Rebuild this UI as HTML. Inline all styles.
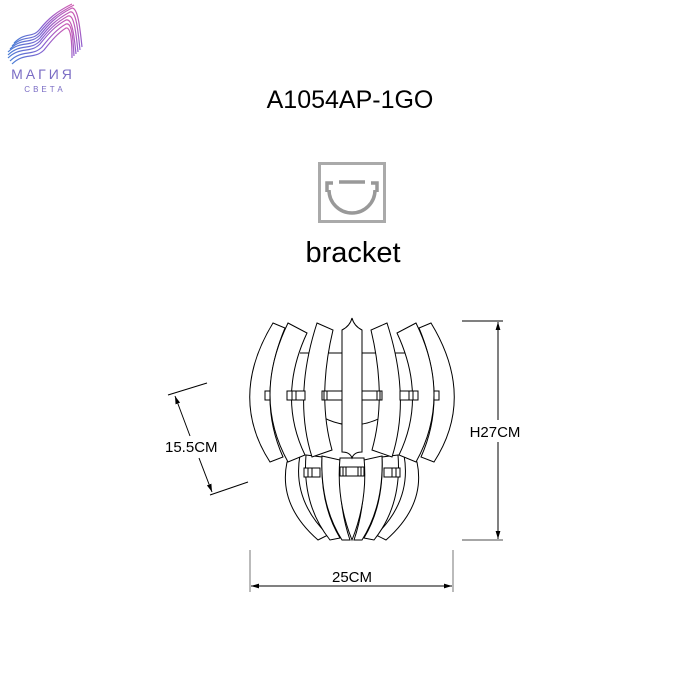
<!DOCTYPE html>
<html><head><style>
body{margin:0;background:#fff;}
svg{display:block}
text{font-family:"Liberation Sans",sans-serif;fill:#000}
</style></head><body>
<svg width="700" height="700" viewBox="0 0 700 700" xmlns="http://www.w3.org/2000/svg">
<defs>
<linearGradient id="lg" x1="0" y1="1" x2="1" y2="0">
<stop offset="0" stop-color="#4a7fd6"/><stop offset="0.5" stop-color="#8a5fd0"/><stop offset="1" stop-color="#d05ab0"/>
</linearGradient>
<marker id="ar" viewBox="0 0 10 10" refX="10" refY="5" markerWidth="8" markerHeight="8" orient="auto-start-reverse"><path d="M0,2 L10,5 L0,8 z" fill="#000"/></marker>
</defs>
<!-- logo -->
<g fill="none" stroke="url(#lg)" stroke-width="1.2">
<path d="M8,52 C20,40 30,48 40,38 C48,28 55,20 70,12 C76,10 78,30 80,50"/>
<path d="M8,55 C20,43 30,51 40,41 C48,31 55,23 68,16 C74,14 76,32 78,52"/>
<path d="M8,58 C20,46 30,54 40,44 C48,34 55,26 66,20 C72,18 74,34 76,54"/>
<path d="M10,61 C22,49 32,57 42,47 C50,37 57,29 66,24 C72,22 73,38 74,56"/>
<path d="M12,64 C24,52 34,60 44,50 C52,40 58,33 66,28 C71,27 72,42 72,58"/>
<path d="M10,49 C22,37 30,45 40,35 C48,25 56,16 72,8 C78,8 80,28 82,47"/>
<path d="M12,46 C24,34 32,42 40,32 C48,22 56,14 74,5"/>
<path d="M14,43 C26,31 32,39 40,29 C48,19 56,12 72,4"/>
</g>
<text x="43" y="79" font-size="14" text-anchor="middle" style="fill:#7a6cc4;letter-spacing:3px">МАГИЯ</text>
<text x="45" y="92" font-size="8" text-anchor="middle" style="fill:#7a6cc4;letter-spacing:3px">СВЕТА</text>

<text x="350" y="108" font-size="25" text-anchor="middle">A1054AP-1GO</text>
<!-- bracket icon -->
<rect x="319.5" y="163.5" width="65" height="58" fill="#fff" stroke="#aaa" stroke-width="3"/>
<g fill="none" stroke="#999" stroke-width="3.5">
<path d="M329,190 A23,23 0 0 0 375,190"/>
<path d="M327,192 v-9 h6 M377,192 v-9 h-6"/>
<path d="M339,182 h26"/>
</g>
<text x="353" y="262" font-size="29" text-anchor="middle">bracket</text>

<!-- lamp -->
<g fill="#fff" stroke="#000" stroke-width="1">
<path d="M300,353 H405 M295,395 H410"/>
<path d="M305,405 Q352,445 400,405" fill="none"/>
<!-- lower slats -->
<path d="M287,462 L300,455 Q292,500 328,535 L318,540 Q278,505 287,462z"/>
<path d="M417,462 L404,455 Q412,500 376,535 L386,540 Q426,505 417,462z"/>
<path d="M306,455 L322,457 Q320,505 340,538 L330,540 Q302,505 306,455z"/>
<path d="M398,455 L382,457 Q384,505 364,538 L374,540 Q402,505 398,455z"/>
<path d="M322,456 L340,460 Q338,505 350,540 L342,540 Q320,505 322,456z"/>
<path d="M382,456 L364,460 Q366,505 354,540 L362,540 Q384,505 382,456z"/>
<path d="M340,458 L364,458 Q368,500 352,540 Q336,500 340,458z"/>
<rect x="304" y="468" width="16" height="9"/><rect x="308" y="468" width="4" height="9"/>
<rect x="340" y="467" width="24" height="9"/><rect x="343" y="467" width="3" height="9"/><rect x="358" y="467" width="3" height="9"/>
<rect x="384" y="468" width="16" height="9"/><rect x="392" y="468" width="4" height="9"/>
<!-- upper slats -->
<path d="M273,323 L285,328 Q256,397 283,457 L270,462 Q228,397 273,323z"/>
<path d="M288,323 L307,333 Q277,397 305,455 L288,462 Q252,397 288,323z"/>
<path d="M317,323 L333,330 Q317,397 332,450 L312,457 Q293,397 317,323z"/>
<path d="M431,323 L419,328 Q448,397 421,457 L434,462 Q476,397 431,323z"/>
<path d="M416,323 L397,333 Q427,397 399,455 L416,462 Q452,397 416,323z"/>
<path d="M387,323 L371,330 Q387,397 372,450 L392,457 Q411,397 387,323z"/>
<path d="M342,330 Q350,326 352,318 Q354,326 362,330 L362,452 Q354,452 352,458 Q350,452 342,452z"/>
<rect x="265" y="391" width="5" height="9"/>
<rect x="287" y="391" width="18" height="9"/><rect x="292" y="391" width="4" height="9"/>
<rect x="322" y="391" width="20" height="9"/><rect x="324" y="391" width="3" height="9"/>
<rect x="362" y="391" width="20" height="9"/><rect x="377" y="391" width="3" height="9"/>
<rect x="400" y="391" width="18" height="9"/><rect x="409" y="391" width="4" height="9"/>
<rect x="434" y="391" width="5" height="9"/>
</g>

<!-- dimensions -->
<g stroke="#000" stroke-width="1" fill="none">
<line x1="462" y1="321" x2="503" y2="321"/>
<line x1="462" y1="540" x2="503" y2="540" stroke="#888" stroke-width="1.5"/>
<line x1="498" y1="322" x2="498" y2="420" marker-start="url(#ar)"/>
<line x1="498" y1="442" x2="498" y2="539" marker-end="url(#ar)"/>
<line x1="250" y1="550" x2="250" y2="592" stroke="#777"/>
<line x1="453" y1="550" x2="453" y2="592" stroke="#777"/>
<line x1="251" y1="586" x2="452" y2="586" marker-start="url(#ar)" marker-end="url(#ar)"/>
<line x1="168" y1="395" x2="207" y2="383"/>
<line x1="210" y1="495" x2="248" y2="482"/>
<line x1="175" y1="396" x2="190" y2="436" marker-start="url(#ar)"/>
<line x1="199" y1="458" x2="212" y2="492" marker-end="url(#ar)"/>
</g>
<rect x="466" y="422" width="58" height="18" fill="#fff"/>
<text x="495" y="437" font-size="15" text-anchor="middle">H27CM</text>
<text x="352" y="582" font-size="15" text-anchor="middle">25CM</text>
<text x="165" y="452" font-size="15">15.5CM</text>
</svg>
</body></html>
